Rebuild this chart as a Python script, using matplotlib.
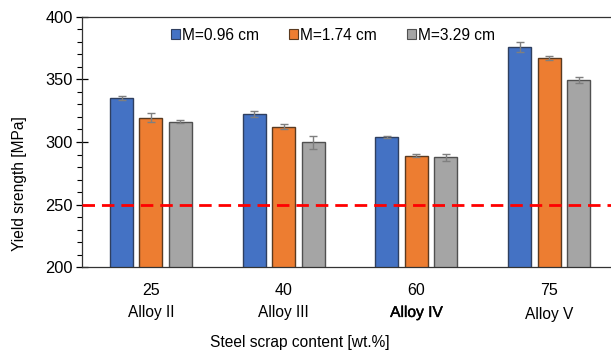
import matplotlib
matplotlib.use("Agg")
import matplotlib.pyplot as plt
import matplotlib.patheffects as pe
from matplotlib.patches import Patch
import numpy as np

plt.rcParams['font.family'] = ['Liberation Sans', 'DejaVu Sans']

scrap = ["25", "40", "60", "75"]
alloys = ["Alloy II", "Alloy III", "Alloy IV", "Alloy V"]
series = ["M=0.96 cm", "M=1.74 cm", "M=3.29 cm"]
m096 = [335.0, 322.3, 303.8, 375.6]
m174 = [319.4, 312.2, 289.1, 366.8]
m329 = [316.2, 299.8, 287.8, 349.5]
err096 = [1.5, 2.5, 1.0, 4.0]
err174 = [3.5, 2.0, 1.0, 1.5]
err329 = [1.0, 5.0, 3.0, 2.5]
threshold = 250

colors = ["#4472C4", "#ED7D31", "#A5A5A5"]
edges = ["#2F3F5F", "#5A3A20", "#505050"]

fig = plt.figure(figsize=(6.11, 3.55), dpi=100)
ax = fig.add_axes([0.135, 0.247, 0.865, 0.706])

x = np.arange(len(scrap))
w = 0.173
off = 0.222
for i, (vals, errs) in enumerate([(m096, err096), (m174, err174), (m329, err329)]):
    ax.bar(x + (i - 1) * off, vals, width=w, color=colors[i], edgecolor=edges[i],
           linewidth=1.0, yerr=errs, capsize=3,
           error_kw=dict(ecolor="#7F7F7F", elinewidth=1.0, capthick=1.0), zorder=2)

ax.axhline(threshold, color="#FF0000", linestyle=(0, (4.5, 2.5)), linewidth=2.0, zorder=3)

ax.set_ylim(200, 400)
ax.set_xlim(-0.516, 3.466)
ax.set_yticks([200, 250, 300, 350, 400])
ax.set_yticks(np.arange(200, 401, 10), minor=True)
ax.tick_params(axis='y', which='major', direction='inout', length=8, width=0.9,
               labelsize=11.8, pad=3)
ax.tick_params(axis='y', which='minor', direction='out', length=3.5, width=0.8)
ax.set_xticks(x)
ax.set_xticklabels(scrap)
ax.tick_params(axis='x', which='both', length=0, labelsize=11.5, pad=11)

for s in ['right']:
    ax.spines[s].set_visible(False)
for s in ['left', 'top', 'bottom']:
    ax.spines[s].set_linewidth(0.9)
    ax.spines[s].set_color("#333333")

alloy_dy = [-0.18, -0.18, -0.18, -0.19]
for i, a in enumerate(alloys):
    t = ax.text(x[i], alloy_dy[i], a, transform=ax.get_xaxis_transform(),
                ha='center', va='center', fontsize=11.2)
    if a == "Alloy IV":
        t.set_path_effects([pe.withStroke(linewidth=0.3, foreground='black')])

fig.text(0.49, 1 - 343 / 355, "Steel scrap content [wt.%]", ha='center', va='center',
         fontsize=11.2)
fig.text(0.032, 1 - 184 / 355, "Yield srength [MPa]", ha='center', va='center',
         rotation=90, fontsize=11.2)

handles = [Patch(facecolor=colors[i], edgecolor=edges[i], linewidth=0.8) for i in range(3)]
fig.legend(handles, series, loc='center', bbox_to_anchor=(0.545, 0.901), ncol=3,
           frameon=False, fontsize=11.2, handlelength=0.6, handleheight=0.6,
           handletextpad=0.15, columnspacing=1.9)

fig.savefig("out.png", dpi=100)
